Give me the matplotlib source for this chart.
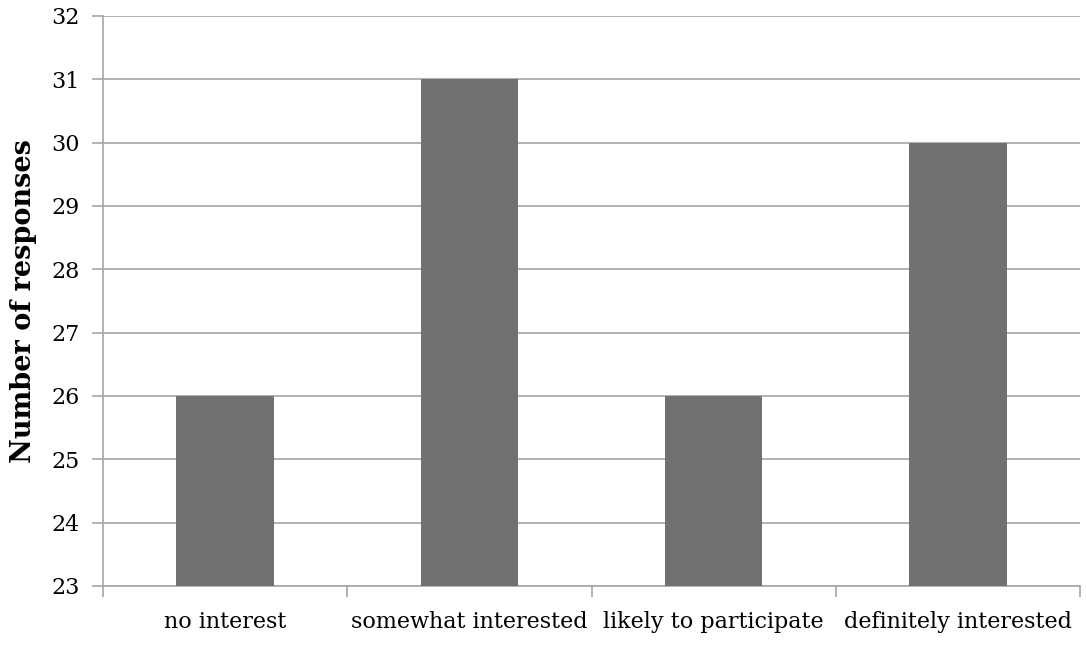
import matplotlib
matplotlib.use("Agg")
import matplotlib.pyplot as plt
from matplotlib.ticker import FixedLocator

categories = ["no interest", "somewhat interested", "likely to participate", "definitely interested"]
responses = [26, 31, 26, 30]
y_ticks = [23, 24, 25, 26, 27, 28, 29, 30, 31, 32]

plt.rcParams["font.family"] = ["DejaVu Serif"]

fig = plt.figure(figsize=(10.86, 6.46), dpi=100)
ax = fig.add_axes([103 / 1086, 1 - 586 / 646, (1080 - 103) / 1086, (586 - 16) / 646])

x = list(range(len(categories)))
ax.bar(x, responses, width=0.4, color="#717171", zorder=3)

ax.set_xlim(-0.5, len(categories) - 0.5)
ax.set_ylim(y_ticks[0], y_ticks[-1])
ax.set_yticks(y_ticks)
ax.set_yticklabels([str(t) for t in y_ticks], fontsize=16)
ax.yaxis.grid(True, color="#a6a6a6", linewidth=1.2, zorder=0)

# category labels sit between boundary ticks
ax.set_xticks(x)
ax.set_xticklabels(categories, fontsize=16)
ax.tick_params(axis="x", length=0, pad=18)
ax.xaxis.set_minor_locator(FixedLocator([i - 0.5 for i in range(len(categories) + 1)]))
ax.tick_params(axis="x", which="minor", length=8, width=1.2, color="#a6a6a6")
ax.tick_params(axis="y", length=8, width=1.2, color="#a6a6a6", pad=9)

for side in ["top", "right"]:
    ax.spines[side].set_visible(False)
for side in ["left", "bottom"]:
    ax.spines[side].set_color("#a6a6a6")
    ax.spines[side].set_linewidth(1.2)

ax.set_ylabel("Number of responses", fontsize=19.5, fontweight="bold", labelpad=10)

fig.savefig("out.png", dpi=100)
